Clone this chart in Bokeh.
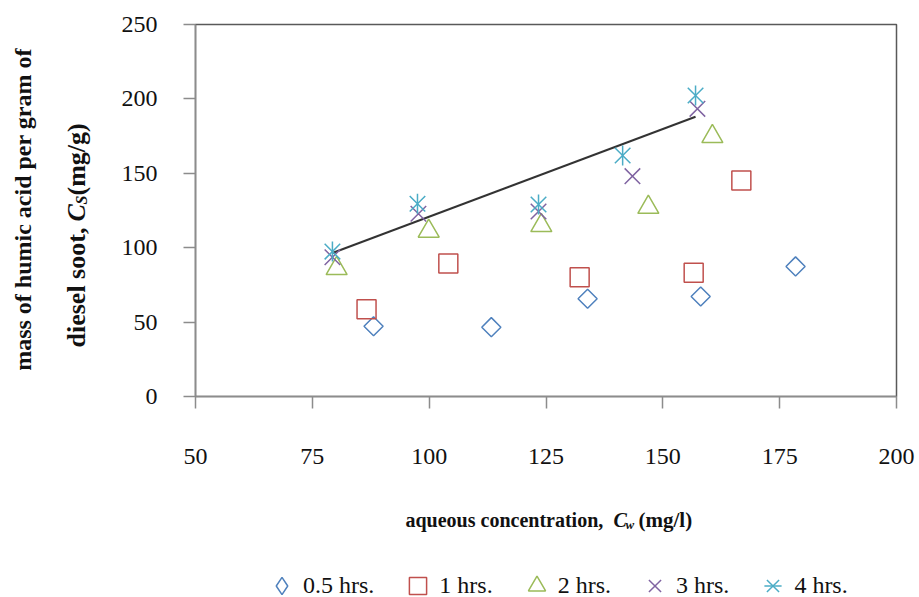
import numpy as np
from bokeh.plotting import figure
from bokeh.layouts import column, row
from bokeh.models import Range1d, FixedTicker, Legend, LegendItem
from bokeh.core.properties import value
from bokeh.embed import file_html
from bokeh.resources import INLINE

# ---- data ----
x_05 = [88.1, 113.3, 133.9, 158.1, 178.4]
y_05 = [47.2, 46.6, 65.7, 67.2, 87.4]
x_1 = [86.6, 104.1, 132.2, 156.6, 166.8]
y_1 = [58.7, 89.4, 80.2, 83.1, 145.2]
x_2 = [80.2, 99.9, 124.0, 146.9, 160.6]
y_2 = [86.0, 111.1, 114.9, 127.2, 174.7]
x_3 = [79.3, 97.7, 123.4, 143.5, 157.4]
y_3 = [93.6, 122.8, 124.3, 148.1, 193.3]
x_4 = [79.3, 97.5, 123.4, 141.4, 157.0]
y_4 = [97.4, 129.5, 129.0, 162.0, 202.3]
series_names = ["0.5 hrs.", "1 hrs.", "2 hrs.", "3 hrs.", "4 hrs."]
x_ticks = [50, 75, 100, 125, 150, 175, 200]
y_ticks = [0, 50, 100, 150, 200, 250]

# ---- page geometry (canvas pixels) ----
W, H = 919, 597
FL, FR, FT, FB = 195, 896, 24, 396   # plot frame edges
LW = 105                              # width of the left strip holding the y title
TH = 490                              # height of the top row (plot + tick labels)

SERIF = "Liberation Serif"
INK = "#111111"
C_BLUE, C_RED, C_GREEN, C_PURPLE, C_CYAN = "#4F81BD", "#C0504D", "#9BBB59", "#8064A2", "#4BACC6"
STYLES = [
    dict(marker="square", angle=np.pi / 4, fill_color=None, line_color=C_BLUE),
    dict(marker="square", fill_color=None, line_color=C_RED),
    dict(marker="triangle", fill_color=None, line_color=C_GREEN),
    dict(marker="x", line_color=C_PURPLE),
]
LEGEND_STYLES = [dict(STYLES[0], marker="diamond")] + STYLES[1:]
STAR_X = dict(marker="x", line_color=C_CYAN)
STAR_BAR = dict(marker="dash", angle=np.pi / 2, line_color=C_CYAN)
SIZES = [13.5, 19, 21, 22]
XS = [x_05, x_1, x_2, x_3]
YS = [y_05, y_1, y_2, y_3]

# ---------------- main chart ----------------
p = figure(width=W - LW, height=TH, output_backend="svg", toolbar_location=None,
           x_range=Range1d(50, 200), y_range=Range1d(0, 250),
           min_border_left=FL - LW, min_border_right=W - FR,
           min_border_top=FT, min_border_bottom=TH - FB)
p.grid.visible = False
p.outline_line_color = "#595959"
p.outline_line_width = 1.5

for ax, ticks in ((p.xaxis[0], x_ticks), (p.yaxis[0], y_ticks)):
    ax.ticker = FixedTicker(ticks=ticks)
    ax.axis_line_color = "#8C8C8C"
    ax.axis_line_width = 1.5
    ax.major_tick_line_color = "#8C8C8C"
    ax.major_tick_line_width = 1.5
    ax.major_tick_out = 12
    ax.major_tick_in = 0
    ax.minor_tick_line_color = None
    ax.major_label_text_font = SERIF
    ax.major_label_text_font_size = "24px"
    ax.major_label_text_color = INK
p.xaxis[0].major_label_standoff = 40
p.yaxis[0].major_label_standoff = 26

# trend line: least-squares fit of the 4 hrs. series
k, b = np.polyfit(x_4, y_4, 1)
tx = np.array([min(x_4), max(x_4)])
p.line(tx, k * tx + b, line_color="#333333", line_width=2)

for xs, ys, st, sz in zip(XS, YS, STYLES, SIZES):
    p.scatter(xs, ys, size=sz, line_width=1.5, **st)
p.scatter(x_4, y_4, size=22, line_width=1.5, **STAR_X)
p.scatter(x_4, y_4, size=20, line_width=1.5, **STAR_BAR)


def strip(width, height, y0, y1, **borders):
    f = figure(width=width, height=height, output_backend="svg", toolbar_location=None,
               x_range=Range1d(0, width), y_range=Range1d(y0, y1),
               x_axis_location=None, y_axis_location=None, min_border=0, **borders)
    f.grid.visible = False
    f.outline_line_color = None
    return f


def put(f, text, px, py, size, style="bold", angle=0.0, align="left"):
    """Write a text piece at a canvas-pixel position (strips use y = -pixel row)."""
    f.text(x=[px], y=[-py], text=[text], angle=angle, text_align=align,
           text_baseline="alphabetic", text_font=value(SERIF),
           text_font_size=value(size), text_font_style=style, text_color=INK)


# ---------------- y-axis title strip (frame aligned with the chart frame) ----------------
left = strip(LW, TH, -FB, -FT, min_border_top=FT, min_border_bottom=TH - FB)
put(left, "mass of humic acid per gram of", 22, 209, "24px", angle=np.pi / 2, align="center")
put(left, "diesel soot, ", 76, 347, "26px", angle=np.pi / 2)
put(left, "C", 76, 221, "26px", "bold italic", angle=np.pi / 2)
put(left, "S", 81, 204, "16px", "bold italic", angle=np.pi / 2)
put(left, " (mg/g)", 76, 195, "26px", angle=np.pi / 2)

# ---------------- x-axis title + legend strip ----------------
bottom = strip(W, H - TH, -H, -TH)
put(bottom, "aqueous concentration, ", 405, 519, "20px")
put(bottom, "C", 613, 519, "20px", "bold italic")
put(bottom, "w", 625, 524, "13px", "bold italic")
put(bottom, "(mg/l)", 638, 519, "21px")

# legend swatches: the series again, styled like the chart markers (they fall outside this strip's view)
swatches = [bottom.scatter(xs, ys, line_width=1.5, **st) for xs, ys, st in zip(XS, YS, LEGEND_STYLES)]
star = [bottom.scatter(x_4, y_4, line_width=1.5, **STAR_X),
        bottom.scatter(x_4, y_4, line_width=1.5, **STAR_BAR)]
items = [LegendItem(label=n, renderers=[r]) for n, r in zip(series_names[:4], swatches)]
items.append(LegendItem(label=series_names[4], renderers=star))
legend = Legend(items=items, orientation="horizontal", location=(260, -10),
                padding=0, margin=0, spacing=22, label_standoff=0,
                glyph_width=43, glyph_height=43, label_height=24,
                label_text_font=SERIF, label_text_font_size="24px",
                label_text_color=INK, border_line_color=None, background_fill_alpha=0)
bottom.add_layout(legend, "center")

page = column(row(left, p, spacing=0), bottom, spacing=0)
open("out.html", "w").write(file_html(page, INLINE))
